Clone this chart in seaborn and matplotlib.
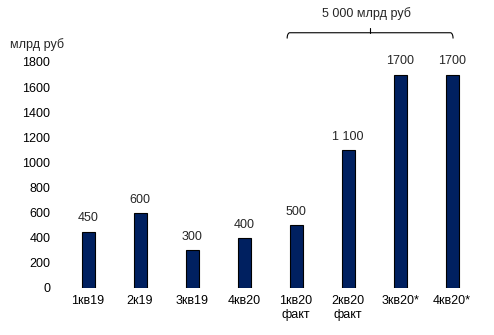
import matplotlib
matplotlib.use("Agg")
import matplotlib.pyplot as plt
import seaborn as sns
import pandas as pd
import numpy as np

categories = ["1кв19", "2к19", "3кв19", "4кв20", "1кв20\nфакт", "2кв20\nфакт", "3кв20*", "4кв20*"]
values = [450, 600, 300, 400, 500, 1100, 1700, 1700]
value_labels = ["450", "600", "300", "400", "500", "1 100", "1700", "1700"]
yticks = [0, 200, 400, 600, 800, 1000, 1200, 1400, 1600, 1800]
unit_label = "млрд руб"
bracket_label = "5 000 млрд руб"

sns.set_theme(style="white")
plt.rcParams['font.family'] = ['Liberation Sans', 'DejaVu Sans']
plt.rcParams['font.size'] = 9

df = pd.DataFrame({"cat": categories, "val": values})

fig = plt.figure(figsize=(4.94, 3.35), dpi=100)
ax = fig.add_axes([62/494, 47/335, 416/494, 226/335])

sns.barplot(data=df, x="cat", y="val", color="#002060", edgecolor="black",
            linewidth=0.8, width=0.25, saturation=1, ax=ax)

ax.set_ylim(0, 1800)
ax.set_xlim(-0.5, len(categories) - 0.5)
ax.set_yticks(yticks)
ax.set_yticklabels([str(t) for t in yticks], fontsize=9)
ax.tick_params(axis='both', length=0, labelsize=9, colors="black")
ax.tick_params(axis='y', pad=8.5)
ax.tick_params(axis='x', pad=5)
ax.set_xlabel("")
ax.set_ylabel("")
for s in ax.spines.values():
    s.set_visible(False)

for i, (v, lab) in enumerate(zip(values, value_labels)):
    ax.text(i, v + 104, lab, ha="center", va="center", fontsize=9, clip_on=False)

fig.text(10/494, 1 - 45/335, unit_label, ha="left", va="center", fontsize=9)

# bracket over forecast period
x0, x1 = 3.83, 7.02
xm = 5.42
yb, ye, yt = 2033, 1990, 2068
t = np.linspace(0, np.pi/2, 10)
r = 0.05
lx = x0 + r * (1 - np.cos(t))
ly = ye + (yb - ye) * np.sin(t)
rx = x1 - r * (1 - np.cos(t))
xs = list(lx) + list(rx[::-1])
ys = list(ly) + list(ly[::-1])
ax.plot(xs, ys, color="black", lw=0.8, clip_on=False, solid_capstyle="round")
ax.plot([xm, xm], [yb, yt], color="black", lw=0.8, clip_on=False)
ax.text(5.36, 2185, bracket_label, ha="center", va="center", fontsize=9, clip_on=False)

fig.savefig("out.png", dpi=100, facecolor="white")
